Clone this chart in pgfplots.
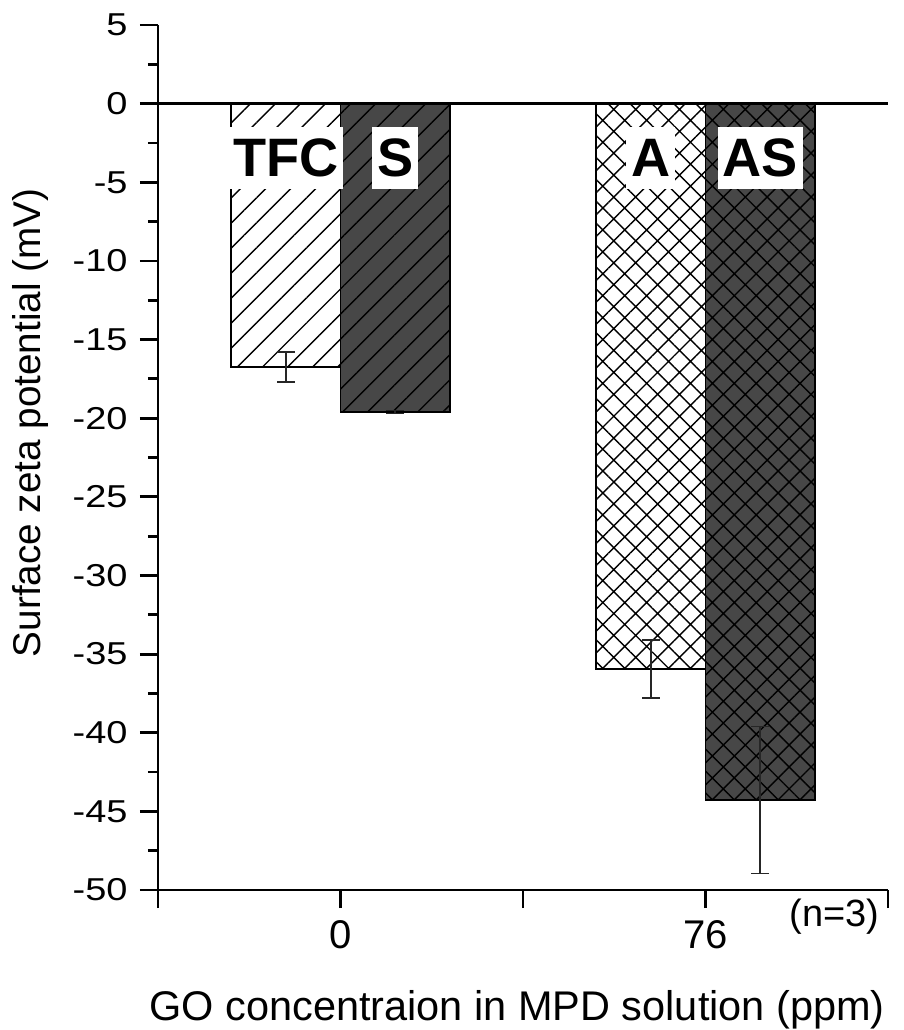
\documentclass[border=0pt]{standalone}
\usepackage{fontspec}
\setmainfont{Liberation Sans}
\newfontfamily\widesans[FakeStretch=1.2]{Liberation Sans}
\usepackage{pgfplots}
\pgfplotsset{compat=1.18}
\usetikzlibrary{patterns.meta}
\definecolor{bardark}{HTML}{474747}

\begin{document}
\begin{tikzpicture}
\useasboundingbox (-15.8mm,-14mm) rectangle (74.5mm,89mm);
\begin{axis}[
    scale only axis,
    width=73mm, height=86.5mm,
    xmin=-0.5, xmax=1.5,
    ymin=-50, ymax=5,
    clip mode=individual,
    axis x line*=bottom,
    axis y line*=left,
    axis line style={-, line width=0.85pt},
    xtick={-0.5,0,0.5,1,1.5},
    xticklabels={,0,,76,},
    ytick={-50,-45,...,5},
    yticklabels={-50,-45,-40,-35,-30,-25,-20,-15,-10,-5,0,5},
    minor y tick num=1,
    tick align=outside,
    major tick length=1.8mm,
    minor tick length=1mm,
    every tick/.style={black, line width=0.8pt},
    yticklabel style={font=\widesans\fontsize{9}{10}\selectfont},
    xticklabel style={font=\fontsize{11.4}{13}\selectfont},
    xlabel={GO concentraion in MPD solution (ppm)},
    xlabel style={at={(axis description cs:0.492,-0.151)}, anchor=base,
                  font=\fontsize{11.8}{14}\selectfont},
    ylabel={Surface zeta potential (mV)},
    ylabel style={at={(axis description cs:-0.174,0.540)}, anchor=center,
                  font=\fontsize{11}{13}\selectfont},
    error bars/error bar style={line width=0.45pt, black!85},
    error bars/error mark options={rotate=90, mark size=0.9mm,
                                   line width=0.45pt, black!85},
]

% TFC
\addplot[ybar, bar width=0.3, bar shift=0, draw=black, line width=0.55pt,
  fill=white, postaction={pattern={Lines[angle=45,distance=1.77mm,line width=0.4pt]}},
  error bars/.cd, y dir=both, y explicit]
  coordinates {(-0.15,-16.75) +- (0,0.95)};
% S
\addplot[ybar, bar width=0.3, bar shift=0, draw=black, line width=0.55pt,
  fill=bardark, postaction={pattern={Lines[angle=45,distance=1.77mm,line width=0.4pt]}},
  error bars/.cd, y dir=both, y explicit]
  coordinates {(0.15,-19.61) +- (0,0.1)};
% A
\addplot[ybar, bar width=0.3, bar shift=0, draw=black, line width=0.55pt,
  fill=white, postaction={pattern={Hatch[angle=45,distance=1.55mm,line width=0.4pt]}},
  error bars/.cd, y dir=both, y explicit]
  coordinates {(0.85,-35.95) +- (0,1.85)};
% AS
\addplot[ybar, bar width=0.3, bar shift=0, draw=black, line width=0.55pt,
  fill=bardark, postaction={pattern={Hatch[angle=45,distance=1.55mm,line width=0.4pt]}},
  error bars/.cd, y dir=both, y explicit]
  coordinates {(1.15,-44.28) +- (0,4.67)};

\draw[line width=0.85pt] (axis cs:-0.5,0) -- (axis cs:1.5,0);

\tikzset{barlab/.style={fill=white, inner xsep=0.5mm, inner ysep=1.2mm,
  font=\bfseries\fontsize{15.4}{16}\selectfont}}
\node[barlab] at (axis cs:-0.15,-3.46) {TFC};
\node[barlab] at (axis cs:0.15,-3.46) {S};
\node[barlab] at (axis cs:0.85,-3.46) {A};
\node[barlab] at (axis cs:1.15,-3.46) {AS};

\node[font=\fontsize{10.8}{12}\selectfont, anchor=center]
  at (axis description cs:0.927,-0.031) {(n=3)};
\end{axis}
\end{tikzpicture}
\end{document}
